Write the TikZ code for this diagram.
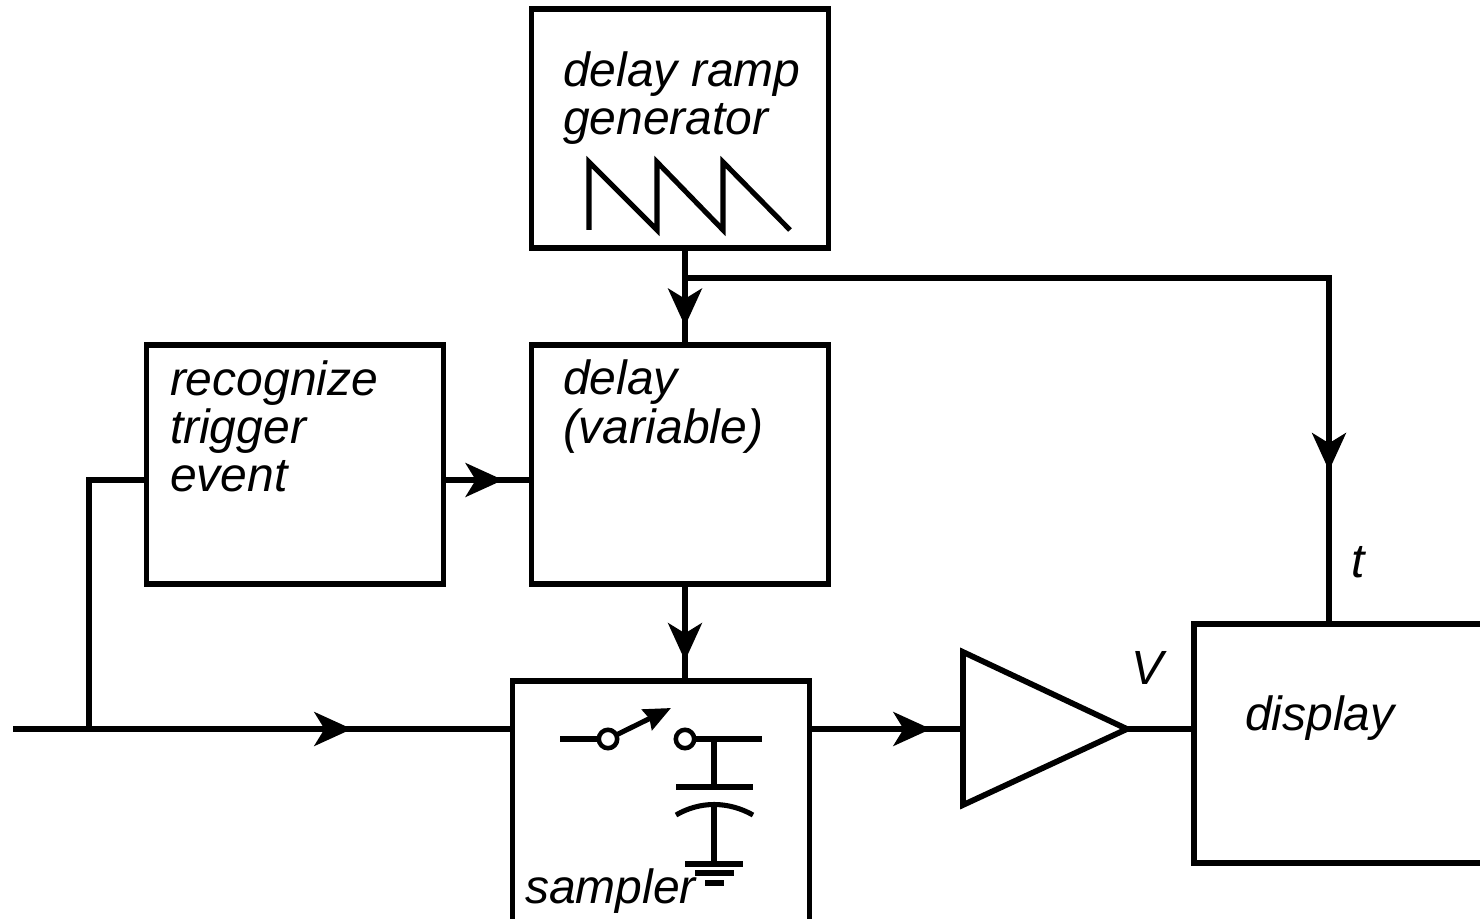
\documentclass[tikz,border=0pt]{standalone}
\usepackage{fontspec}
\setmainfont{Liberation Sans}
\usetikzlibrary{arrows.meta,decorations.markings,calc}
\tikzset{
  x=0.75pt,y=-0.75pt,
  wire/.style={line width=4.3pt,line cap=butt,line join=miter},
  thin wire/.style={line width=3.8pt,line cap=butt,line join=miter},
  blockbox/.style={draw,line width=4.3pt,inner sep=0pt,outer sep=0pt,minimum width=222.75pt,minimum height=179pt,anchor=north west},
  label/.style={inner sep=0pt,outer sep=0pt,anchor=base west,align=left,font=\fontsize{36}{36}\selectfont\itshape},
  terminal/.style={circle,draw,line width=3.4pt,fill=white,inner sep=0pt,outer sep=0pt,minimum size=13.8pt},
  headed/.style={postaction={decorate,decoration={markings,mark=at position #1 with {\arrow[line width=0pt]{Stealth[length=28.5pt,width=26pt,inset=8pt]}}}}},
}
\begin{document}
\begin{tikzpicture}
\useasboundingbox (0,0) rectangle (1480,919);
\clip (0,0) rectangle (1480,919);
% blocks
\node[blockbox] (ramp) at (531.5,9) {};
\node[blockbox] (delay) at (531.5,345) {};
\node[blockbox] (recog) at (146.5,345) {};
\node[blockbox,minimum height=240pt] (sampler) at (512.5,681) {};
\node[blockbox] (display) at (1194,624) {};
\coordinate (amptop) at (963,652);
\coordinate (ampbot) at (963,805);
\coordinate (amptip) at (1127,729);
\draw[wire] (amptop) -- (amptip) -- (ampbot) -- cycle;
% labels
\node[label] (lramp) at (563,135) {delay ramp\\generator};
\node[label] (lrecog) at (170,491) {recognize\\trigger\\event};
\node[label] (ldelay) at (563,443) {delay\\(variable)};
\node[label] (lsamp) at (525,903) {sampler};
\node[label] (ldisp) at (1245,730) {display};
\node[label] (lt) at (1351,577) {t};
\node[label] (lV) at (1131,684) {V};
% connectors
\coordinate (rampout) at (685,248);
\coordinate (delayin) at (685,345);
\coordinate (delayout) at (685,584);
\coordinate (samplerin) at (685,681);
\coordinate (branch) at (685,278);
\coordinate (corner) at (1329,278);
\coordinate (dispin) at (1329,624);
\coordinate (inp) at (13,729);
\coordinate (tap) at (89,729);
\coordinate (tapup) at (89,480);
\coordinate (recogin) at (146,480);
\coordinate (recogout) at (445,480);
\coordinate (delayl) at (531,480);
\coordinate (sampl) at (512,729);
\coordinate (sampr) at (810,729);
\coordinate (ampin) at (963,729);
\coordinate (displ) at (1194,729);
\draw[wire,headed=0.805] (rampout) -- (delayin);
\draw[wire,headed=0.845] (branch) -- (corner) -- (dispin);
\draw[wire,headed=0.79] (delayout) -- (samplerin);
\draw[wire] (recogin) -- (tapup) -- (tap);
\draw[wire,headed=0.679] (inp) -- (sampl);
\draw[wire,headed=0.675] (recogout) -- (delayl);
\draw[wire,headed=0.79] (sampr) -- (ampin);
\draw[wire] (amptip) -- (displ);
% sawtooth
\coordinate (s0) at (589,230);
\coordinate (s1) at (589,162);
\coordinate (s2) at (657,230);
\coordinate (s3) at (657,162);
\coordinate (s4) at (723,230);
\coordinate (s5) at (723,162);
\coordinate (s6) at (790,230);
\draw[thin wire] (s0) -- (s1) -- (s2) -- (s3) -- (s4) -- (s5) -- (s6);
% switch
\coordinate (swl) at (560,739);
\node[terminal] (sw1) at (608,739) {};
\node[terminal] (sw2) at (685,739) {};
\coordinate (swr) at (762,739);
\coordinate (swtip) at (671,708);
\coordinate (capjoin) at (714,739);
\coordinate (capplate) at (714,787);
\coordinate (plateL) at (676,787);
\coordinate (plateR) at (753,787);
\coordinate (arcL) at (676,815);
\coordinate (arcR) at (753,815);
\coordinate (arcM) at (714,805);
\coordinate (gnd) at (714,864);
\draw[thin wire] (swl) -- (sw1);
\draw[thin wire] (sw2) -- (swr);
\draw[thin wire,-{Stealth[length=20pt,width=17pt,inset=2pt]}] (sw1) -- (swtip);
\draw[thin wire] (capjoin) -- (capplate);
\draw[thin wire] (plateL) -- (plateR);
\draw[thin wire] (arcL) .. controls (700,801) and (728,801) .. (arcR);
\draw[thin wire] (arcM) -- (gnd);
\coordinate (g1l) at (685,864);
\coordinate (g1r) at (743,864);
\coordinate (g2l) at (695,873);
\coordinate (g2r) at (734,873);
\coordinate (g3l) at (705,883);
\coordinate (g3r) at (724,883);
\draw[thin wire] (g1l) -- (g1r);
\draw[thin wire] (g2l) -- (g2r);
\draw[thin wire] (g3l) -- (g3r);
\end{tikzpicture}
\end{document}
